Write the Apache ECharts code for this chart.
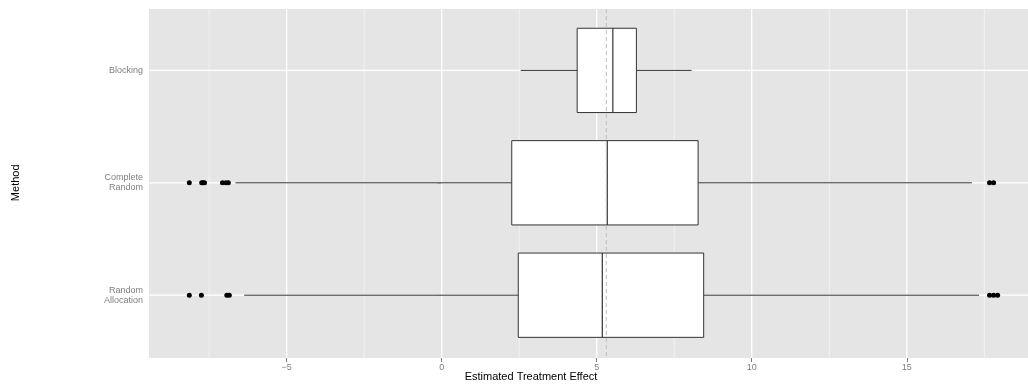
<!DOCTYPE html>
<html>
<head>
<meta charset="utf-8">
<script src="https://cdn.jsdelivr.net/npm/echarts@6/dist/echarts.min.js"></script>
<style>
html,body{margin:0;padding:0;background:#fff;}
#chart{width:1028px;height:388px;}
</style>
</head>
<body>
<div id="chart"></div>
<script>
// ---- data ----
const categories = ['Random\nAllocation', 'Complete\nRandom', 'Blocking'];
const whiskerLow  = [-6.37, -6.65, 2.55];
const q1          = [2.47, 2.26, 4.37];
const median      = [5.18, 5.34, 5.52];
const q3          = [8.45, 8.27, 6.28];
const whiskerHigh = [17.33, 17.10, 8.06];
const outliersRandomAllocation = [-8.14, -7.75, -6.93, -6.85, 17.67, 17.80, 17.93];
const outliersCompleteRandom   = [-8.14, -7.74, -7.70, -7.65, -7.07, -6.96, -6.88, 17.67, 17.80];
const outliersBlocking         = [];
const referenceLine = 5.31;
const xTicks = [-5, 0, 5, 10, 15];
const xMinorBreaks = [-7.5, -2.5, 2.5, 7.5, 12.5, 17.5];
const xRange = [-9.44, 18.91];

const FONT = 'Liberation Sans, Arial, Helvetica, sans-serif';
const GREY = '#7F7F7F';

const outlierLists = [outliersRandomAllocation, outliersCompleteRandom, outliersBlocking];
const outlierData = [];
outlierLists.forEach((list, i) => list.forEach(v => outlierData.push([v, i])));

function vLine(stroke, width, dash) {
  return function (params, api) {
    const cs = params.coordSys;
    const x = api.coord([api.value(0), 0])[0];
    return {
      type: 'line',
      shape: { x1: x, y1: cs.y, x2: x, y2: cs.y + cs.height },
      style: { stroke: stroke, lineWidth: width, lineDash: dash || null }
    };
  };
}

const chart = echarts.init(document.getElementById('chart'), null, { renderer: 'canvas' });
chart.setOption({
  animation: false,
  backgroundColor: '#FFFFFF',
  textStyle: { fontFamily: FONT },
  title: {
    text: 'Estimated Treatment Effect',
    left: 531, top: 371, textAlign: 'center', padding: 0,
    textStyle: { fontSize: 11, fontWeight: 'normal', color: '#000', fontFamily: FONT }
  },
  grid: [
    { left: 149, right: 0, top: 9, bottom: 30, show: true, backgroundColor: '#E5E5E5', borderWidth: 0 },
    { left: 149, right: 0, top: 14.2, height: 337.2 }
  ],
  xAxis: [
    {
      gridIndex: 0, type: 'value', min: xRange[0], max: xRange[1],
      axisLine: { show: false },
      axisTick: { show: true, customValues: xTicks, length: 4, lineStyle: { color: GREY } },
      axisLabel: {
        customValues: xTicks, fontSize: 9, color: GREY, margin: 5, fontFamily: FONT,
        formatter: v => String(v).replace('-', '\u2212')
      },
      splitLine: { show: false }
    },
    { gridIndex: 1, type: 'value', min: xRange[0], max: xRange[1], show: false }
  ],
  yAxis: [
    { gridIndex: 0, type: 'value', min: 0, max: 1, show: false },
    {
      gridIndex: 1, type: 'category', data: categories,
      axisLine: { show: false },
      axisTick: { show: true, alignWithLabel: true, length: 4, lineStyle: { color: GREY } },
      axisLabel: { fontSize: 9, color: GREY, lineHeight: 10, margin: 6, fontFamily: FONT },
      splitLine: { show: false },
      name: 'Method', nameLocation: 'middle', nameRotate: 90, nameGap: 128,
      nameTextStyle: { fontSize: 11, color: '#000', fontFamily: FONT }
    }
  ],
  series: [
    {
      name: 'minorGrid', type: 'custom', xAxisIndex: 0, yAxisIndex: 0, z: 1, silent: true,
      data: xMinorBreaks.map(v => [v, 0]), encode: { x: 0, y: 1 },
      renderItem: vLine('#F2F2F2', 1)
    },
    {
      name: 'majorGrid', type: 'custom', xAxisIndex: 0, yAxisIndex: 0, z: 1, silent: true,
      data: xTicks.map(v => [v, 0]), encode: { x: 0, y: 1 },
      renderItem: vLine('#FFFFFF', 1.3)
    },
    {
      name: 'catGrid', type: 'custom', xAxisIndex: 1, yAxisIndex: 1, z: 1, silent: true,
      data: categories.map((c, i) => [xRange[0], i]), encode: { x: 0, y: 1 },
      renderItem: function (params, api) {
        const cs = params.coordSys;
        const y = api.coord([api.value(0), api.value(1)])[1];
        return { type: 'line', shape: { x1: cs.x, y1: y, x2: cs.x + cs.width, y2: y },
                 style: { stroke: '#FFFFFF', lineWidth: 1.3 } };
      }
    },
    {
      name: 'boxes', type: 'custom', xAxisIndex: 1, yAxisIndex: 1, z: 2, silent: true,
      data: categories.map((c, i) => [i, whiskerLow[i], q1[i], median[i], q3[i], whiskerHigh[i]]),
      encode: { y: 0, x: [1, 2, 3, 4, 5] },
      renderItem: function (params, api) {
        const i = api.value(0);
        const pLo = api.coord([api.value(1), i]);
        const pQ1 = api.coord([api.value(2), i]);
        const pMd = api.coord([api.value(3), i]);
        const pQ3 = api.coord([api.value(4), i]);
        const pHi = api.coord([api.value(5), i]);
        const half = api.size([0, 1])[1] * 0.375;
        const yc = pMd[1];
        const stroke = '#333333';
        return {
          type: 'group',
          children: [
            { type: 'line', shape: { x1: pLo[0], y1: yc, x2: pQ1[0], y2: yc }, style: { stroke: stroke, lineWidth: 1 } },
            { type: 'line', shape: { x1: pQ3[0], y1: yc, x2: pHi[0], y2: yc }, style: { stroke: stroke, lineWidth: 1 } },
            { type: 'rect', shape: { x: pQ1[0], y: yc - half, width: pQ3[0] - pQ1[0], height: 2 * half },
              style: { fill: '#FFFFFF', stroke: stroke, lineWidth: 1 } },
            { type: 'line', shape: { x1: pMd[0], y1: yc - half, x2: pMd[0], y2: yc + half }, style: { stroke: stroke, lineWidth: 1.2 } }
          ]
        };
      }
    },
    {
      name: 'outliers', type: 'scatter', xAxisIndex: 1, yAxisIndex: 1, z: 3, silent: true,
      data: outlierData, symbol: 'circle', symbolSize: 5,
      itemStyle: { color: '#000000', opacity: 1 }
    },
    {
      name: 'reference', type: 'custom', xAxisIndex: 0, yAxisIndex: 0, z: 4, silent: true,
      data: [[referenceLine, 0]], encode: { x: 0, y: 1 },
      renderItem: vLine('#BEBEBE', 1, [4, 3])
    }
  ]
});
</script>
</body>
</html>
